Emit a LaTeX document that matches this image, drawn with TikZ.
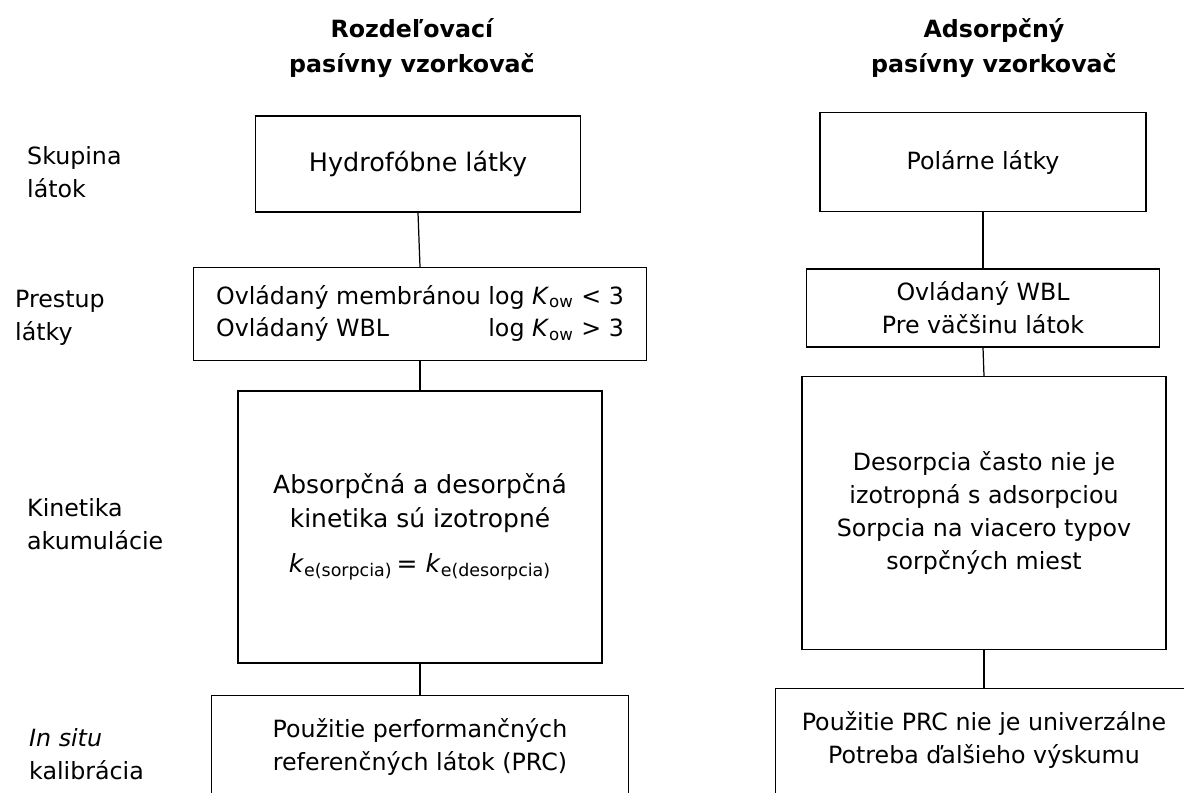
\documentclass[tikz,border=0pt]{standalone}
\usepackage{fontspec}
\setmainfont{DejaVu Sans}

\tikzset{
  box/.style={draw, line width=0.7pt, align=center, inner sep=0pt},
  link/.style={line width=0.7pt},
  rowlabel/.style={anchor=west, align=left},
  header/.style={align=center, font=\bfseries\fontsize{13.5}{19.5}\selectfont},
}

\begin{document}
\begin{tikzpicture}[x=0.02cm, y=-0.02cm, font=\fontsize{13.5}{18.7}\selectfont]
\useasboundingbox (0,0) rectangle (1184,793);
\clip (0,0) rectangle (1184,793);

% headers
\node[header] (hlavaL) at (412,48) {Rozdeľovací\\pasívny vzorkovač};
\node[header] (hlavaR) at (994,48) {Adsorpčný\\pasívny vzorkovač};

% row labels
\node[rowlabel] (skupina) at (21,172) {Skupina\\látok};
\node[rowlabel] (prestup) at (9,318) {Prestup\\látky};
\node[rowlabel] (kinetika) at (21,524) {Kinetika\\akumulácie};
\node[rowlabel] (kalibracia) at (23,754) {\textit{In situ}\\kalibrácia};

% left column
\node[box, minimum width=6.5cm, minimum height=1.92cm, font=\fontsize{14.5}{19}\selectfont] (hydro) at (418,164) {Hydrofóbne látky};
\node[box, minimum width=9.06cm, minimum height=1.86cm] (membrana) at (420,314)
  {\begin{tabular}{@{}l@{ }r@{}}
   Ovládaný membránou & log \textit{K}\textsubscript{ow} < 3\\
   Ovládaný WBL & log \textit{K}\textsubscript{ow} > 3
   \end{tabular}};
\node[box, minimum width=7.28cm, minimum height=5.44cm, font=\fontsize{14.2}{19.5}\selectfont] (izotrop) at (420,527)
  {Absorpčná a desorpčná\\kinetika sú izotropné\\[6pt]
   \textit{k}\textsubscript{e(sorpcia)}\,= \textit{k}\textsubscript{e(desorpcia)}};
\node[box, anchor=north, minimum width=8.34cm, minimum height=3cm] (prc) at (420,695) {};
\node[align=center, anchor=north] (prctext) at ([yshift=-10pt]prc.north)
  {Použitie performančných\\referenčných látok (PRC)};

% right column
\node[box, minimum width=6.52cm, minimum height=1.98cm] (polar) at (983,162) {Polárne látky};
\node[box, minimum width=7.06cm, minimum height=1.56cm] (wbl) at (983,308) {Ovládaný WBL\\Pre väčšinu látok};
\node[box, minimum width=7.28cm, minimum height=5.46cm] (sorpcia) at (984,513)
  {Desorpcia často nie je\\izotropná s adsorpciou\\Sorpcia na viacero typov\\sorpčných miest};
\node[box, anchor=north, minimum width=8.34cm, minimum height=3cm] (vyskum) at (984,688) {};
\node[align=center, anchor=north] (vyskumtext) at ([yshift=-10pt]vyskum.north)
  {Použitie PRC nie je univerzálne\\Potreba ďalšieho výskumu};

% connectors
\draw[link] (hydro.south) -- (membrana.north);
\draw[link] (membrana.south) -- (izotrop.north);
\draw[link] (izotrop.south) -- (prc.north);
\draw[link] (polar.south) -- (wbl.north);
\draw[link] (wbl.south) -- (sorpcia.north);
\draw[link] (sorpcia.south) -- (vyskum.north);
\end{tikzpicture}
\end{document}
